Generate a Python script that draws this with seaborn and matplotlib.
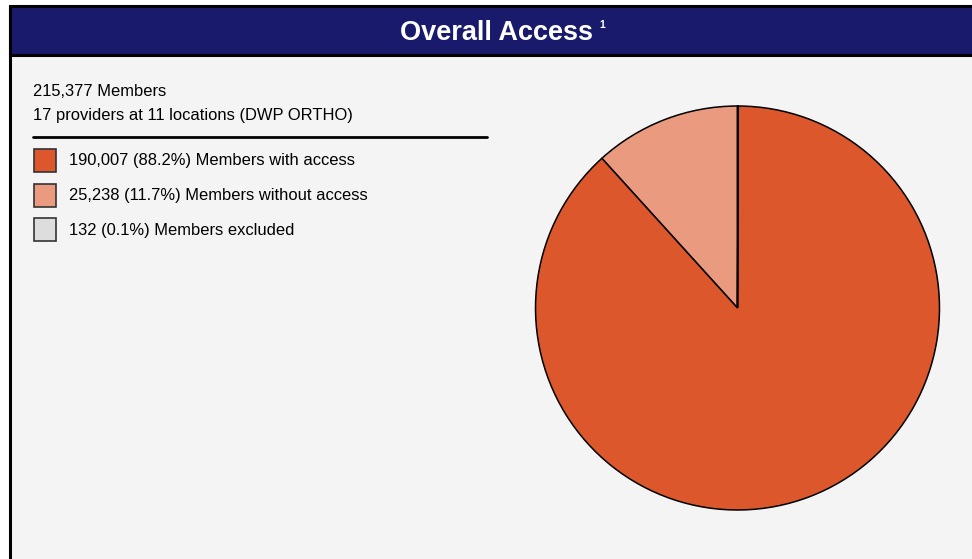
import matplotlib
matplotlib.use("Agg")
import matplotlib.pyplot as plt
from matplotlib.patches import Rectangle
import seaborn as sns

# Member access summary
summary_lines = ["215,377 Members", "17 providers at 11 locations (DWP ORTHO)"]
categories = ["Members with access", "Members without access", "Members excluded"]
counts = [190007, 25238, 132]
percents = [88.2, 11.7, 0.1]
colors = ["#DC572B", "#EA9A7F", "#DDDDDD"]

sns.set_style("white")
plt.rcParams["font.family"] = ["Liberation Sans", "DejaVu Sans"]

W, H = 972, 559
fig = plt.figure(figsize=(W / 100, H / 100), dpi=100)
fig.patch.set_facecolor("white")

# Full-figure canvas in pixel coordinates for the frame, header and legend
bg = fig.add_axes([0, 0, 1, 1])
bg.set_xlim(0, W)
bg.set_ylim(H, 0)
bg.axis("off")

bg.add_patch(Rectangle((9.5, 6), W, H, facecolor="#F4F4F4", edgecolor="none"))
bg.add_patch(Rectangle((9.5, 6), W, 48.5, facecolor="#1A1A6C",
                       edgecolor="black", linewidth=2.2))
bg.plot([9.5, 9.5], [6, H], color="black", linewidth=2.2)

bg.text(496.5, 32.5, "Overall Access", color="white", fontsize=19.5,
        fontweight="bold", ha="center", va="center")
bg.text(599.5, 25, "1", color="white", fontsize=7.5, fontweight="bold",
        ha="left", va="center")

text_size = 11.9
bg.text(33, 91.5, summary_lines[0], fontsize=text_size, ha="left", va="center", color="black")
bg.text(33, 115.5, summary_lines[1], fontsize=text_size, ha="left", va="center", color="black")
bg.plot([33, 487], [136.5, 136.5], color="black", linewidth=2)

for i, (cat, n, p, c) in enumerate(zip(categories, counts, percents, colors)):
    y = 160.5 + i * 34.5
    bg.add_patch(Rectangle((34, y - 11.5), 22, 23, facecolor=c,
                           edgecolor="#333333", linewidth=1.2))
    bg.text(69, y + 0.5, f"{n:,} ({p}%) {cat}", fontsize=text_size, ha="left",
            va="center", color="black")

# Pie chart
cx, cy, r = 737.5, 308, 203
pie_ax = fig.add_axes([(cx - r) / W, (H - cy - r) / H, 2 * r / W, 2 * r / H])
order = [1, 0, 2]
pie_ax.pie([counts[k] for k in order], colors=[colors[k] for k in order],
           startangle=90, counterclock=True,
           wedgeprops=dict(edgecolor="black", linewidth=1.1))
pie_ax.set_xlim(-1.005, 1.005)
pie_ax.set_ylim(-1.005, 1.005)
pie_ax.set_aspect("equal")
pie_ax.axis("off")

fig.savefig("out.png", dpi=100)
